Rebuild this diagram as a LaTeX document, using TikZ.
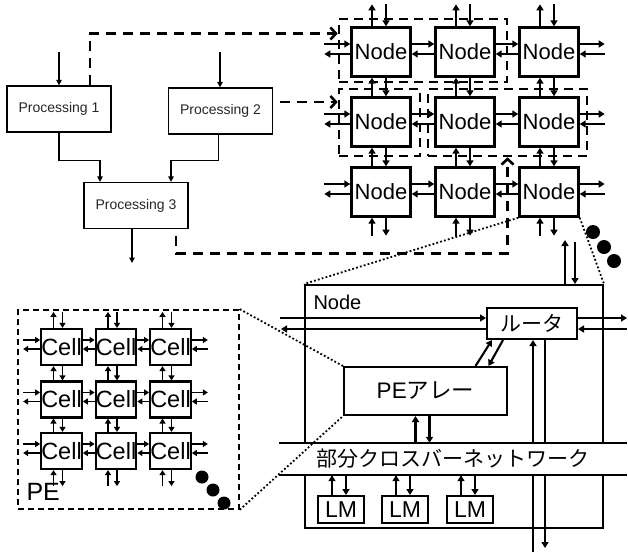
\documentclass[tikz,border=0pt]{standalone}
\usepackage{fontspec}
\setmainfont{Liberation Sans}
\newfontfamily\jpfont{Noto Sans CJK JP}
\usetikzlibrary{calc}
\usetikzlibrary{positioning, fit}
\usetikzlibrary{arrows.meta}

\begin{document}
\begin{tikzpicture}[
    x=1pt, y=-1pt,
    proc/.style={rectangle, draw=black, line width=1.3pt, minimum width=104pt, minimum height=46pt, inner sep=0pt, font=\fontsize{14}{16}\selectfont, text=black!85},
    gnode/.style={rectangle, draw=black, line width=2.4pt, minimum width=59pt, minimum height=49pt, inner sep=0pt, font=\fontsize{22}{24}\selectfont},
    cell/.style={rectangle, draw=black, line width=2.2pt, minimum width=39pt, minimum height=36pt, inner sep=0pt, font=\fontsize{23.5}{24}\selectfont},
    box/.style={rectangle, draw=black, line width=2pt, inner sep=0pt},
    arr/.style={line width=2.1pt, -{Triangle[length=6pt,width=7pt]}},
    carr/.style={line width=1.9pt, -{Triangle[length=5pt,width=6pt]}},
    flow/.style={line width=1.3pt, -{Triangle[length=5.5pt,width=5.5pt]}},
    dconn/.style={line width=2.6pt, dash pattern=on 10pt off 7pt, -{Straight Barb[length=5.5pt,width=12pt,line width=2.6pt]}},
    grp/.style={rectangle, draw=black, line width=2.6pt, dash pattern=on 9pt off 6pt, inner sep=0pt},
    pegrp/.style={rectangle, draw=black, line width=1.6pt, dash pattern=on 6pt off 4pt, inner sep=0pt},
    zoomline/.style={line width=1.8pt, dash pattern=on 1.8pt off 2.2pt},
    bigdot/.style={circle, fill=black, minimum size=14pt, inner sep=0pt},
    jp/.style={font=\jpfont\fontsize{21}{24}\selectfont}
]
    \useasboundingbox (0,0) rectangle (628,552);

    % --- Task graph (top left)
    \node[proc] (P1) at (59,109)    {Processing 1};
    \node[proc] (P2) at (220.5,111) {Processing 2};
    \node[proc] (P3) at (136,205.5) {Processing 3};
    \coordinate (in1) at (59,52);
    \coordinate (in2) at (220,52);
    \coordinate (out3) at (132,263);

    \draw[flow] (in1) -- (P1.north);
    \draw[flow] (in2) -- (in2 |- P2.north);
    \draw[flow] (P1.south) -- ++(0,28) -| ([xshift=-36pt]P3.north);
    \draw[flow] ([xshift=-2pt]P2.south) -- ++(0,26) -| ([xshift=35pt]P3.north);
    \draw[flow] (out3 |- P3.south) -- (out3);

    % --- Node grid (top right)
    \foreach \r/\y in {1/52,2/122,3/192}
        \foreach \c/\x in {1/381,2/465,3/549}
            \node[gnode] (g-\r-\c) at (\x,\y) {Node};

    \foreach \r in {1,2,3} {
        \foreach \c/\d in {1/2,2/3} {
            \draw[arr] ([yshift=8pt]g-\r-\c.east) -- ([yshift=8pt]g-\r-\d.west);
            \draw[arr] ([yshift=-2pt]g-\r-\d.west) -- ([yshift=-2pt]g-\r-\c.east);
        }
        \coordinate (gl-\r) at ($(g-\r-1.west)+(-26,0)$);
        \coordinate (gr-\r) at ($(g-\r-3.east)+(25,0)$);
        \draw[arr] ([yshift=8pt]gl-\r) -- ([yshift=8pt]g-\r-1.west);
        \draw[arr] ([yshift=-2pt]g-\r-1.west) -- ([yshift=-2pt]gl-\r);
        \draw[arr] ([yshift=8pt]g-\r-3.east) -- ([yshift=8pt]gr-\r);
        \draw[arr] ([yshift=-2pt]gr-\r) -- ([yshift=-2pt]g-\r-3.east);
    }
    \foreach \c in {1,2,3} {
        \foreach \r/\s in {1/2,2/3} {
            \draw[arr] ([xshift=-9pt]g-\s-\c.north) -- ([xshift=-9pt]g-\r-\c.south);
            \draw[arr] ([xshift=5pt]g-\r-\c.south) -- ([xshift=5pt]g-\s-\c.north);
        }
        \coordinate (gt-\c) at ($(g-1-\c.north)+(0,-22)$);
        \coordinate (gb-\c) at ($(g-3-\c.south)+(0,18)$);
        \draw[arr] ([xshift=-9pt]g-1-\c.north) -- ([xshift=-9pt]gt-\c);
        \draw[arr] ([xshift=5pt]gt-\c) -- ([xshift=5pt]g-1-\c.north);
        \draw[arr] ([xshift=-9pt]gb-\c) -- ([xshift=-9pt]g-3-\c.south);
        \draw[arr] ([xshift=5pt]g-3-\c.south) -- ([xshift=5pt]gb-\c);
    }

    % --- Mapping of the tasks onto the grid
    \node[grp, fit={(339,19) (507,82)}]  (G1) {};
    \node[grp, fit={(339,89) (420,156)}] (G2) {};
    \node[grp, fit={(428,89) (587,156)}] (G3) {};

    \draw[dconn] ([xshift=31pt]P1.north) |- ([yshift=17pt]G1.west);
    \draw[dconn, shorten <=7pt] ([yshift=9pt]P2.east) -- ([yshift=9pt]P2.east -| G2.west);
    \draw[dconn, shorten <=7pt] ([xshift=40pt]P3.south) |- ([yshift=-96pt]G3.south) -- (G3.south);

    \node[bigdot] (gd1) at (593,232) {};
    \node[bigdot] (gd2) at (604,247) {};
    \node[bigdot] (gd3) at (614,261) {};

    % --- Inside of one node (bottom right)
    \node[box, minimum width=298pt, minimum height=243pt] (NB) at (454,406.5) {};
    \node[anchor=west, font=\fontsize{20}{24}\selectfont] (NBl) at (310,302) {Node};

    \node[box, minimum width=90pt, minimum height=31pt, jp] (R) at (532,323.5) {ルータ};
    \node[box, minimum width=163pt, minimum height=48pt, font=\fontsize{22.5}{24}\selectfont] (PA) at (425.5,391) {PE{\jpfont アレー}};

    \coordinate (Rl1) at (280,318);
    \coordinate (Rl2) at (281,329);
    \coordinate (Rr1) at (627,318);
    \coordinate (Rr2) at (627,329);
    \draw[arr] (Rl1) -- (Rl1 -| R.west);
    \draw[arr] (Rl2 -| R.west) -- (Rl2);
    \draw[arr] (Rr1 -| R.east) -- (Rr1);
    \draw[arr] (Rr2) -- (Rr2 -| R.east);

    \draw[arr] ([xshift=50pt]PA.north) -- ([xshift=-40pt]R.south);
    \draw[arr] ([xshift=-29pt]R.south) -- ([xshift=63pt]PA.north);

    \coordinate (Nt1) at (565,240);
    \coordinate (Nt2) at (575,242);
    \draw[arr] (Nt1 |- NB.north) -- (Nt1);
    \draw[arr] (Nt2) -- (Nt2 |- NB.north);

    \coordinate (Rb1) at (533,552);
    \coordinate (Rb2) at (545,548);
    \draw[arr] (Rb1) -- (Rb1 |- R.south);
    \draw[arr] (Rb2 |- R.south) -- (Rb2);

    % crossbar band hides the lines behind it
    \node[fill=white, minimum width=348pt, minimum height=32pt, inner sep=0pt, jp] (XB) at (453,459) {部分クロスバーネットワーク};
    \draw[line width=2pt] (XB.north west) -- (XB.north east);
    \draw[line width=2pt] (XB.south west) -- (XB.south east);

    \coordinate (pa1) at ([xshift=-10pt]PA.south);
    \coordinate (pa2) at ([xshift=4pt]PA.south);
    \draw[arr] (pa1 |- XB.north) -- (pa1);
    \draw[arr] (pa2) -- (pa2 |- XB.north);

    \foreach \i/\x in {1/341,2/405,3/470} {
        \node[box, minimum width=46pt, minimum height=27pt, font=\fontsize{23}{24}\selectfont] (LM\i) at (\x,509.5) {LM};
        \coordinate (lu\i) at ([xshift=-9pt]LM\i.north);
        \coordinate (ld\i) at ([xshift=5pt]LM\i.north);
        \draw[arr] (lu\i) -- (lu\i |- XB.south);
        \draw[arr] (ld\i |- XB.south) -- (ld\i);
    }

    % --- PE: cell array (bottom left)
    \node[pegrp, fit={(18,310) (239,509)}] (PEB) {};
    \node[anchor=west, font=\fontsize{25}{28}\selectfont] (PEl) at (23,492) {PE};

    \foreach \r/\y in {1/347,2/399.5,3/451}
        \foreach \c/\x in {1/61.5,2/116,3/170.5}
            \node[cell] (c-\r-\c) at (\x,\y) {Cell};

    \foreach \r in {1,2,3} {
        \foreach \c/\d in {1/2,2/3} {
            \draw[carr] ([yshift=7pt]c-\r-\c.east) -- ([yshift=7pt]c-\r-\d.west);
            \draw[carr] ([yshift=-2pt]c-\r-\d.west) -- ([yshift=-2pt]c-\r-\c.east);
        }
        \coordinate (cl-\r) at ($(c-\r-1.west)+(-17,0)$);
        \coordinate (cr-\r) at ($(c-\r-3.east)+(16,0)$);
        \draw[carr] ([yshift=7pt]cl-\r) -- ([yshift=7pt]c-\r-1.west);
        \draw[carr] ([yshift=-2pt]c-\r-1.west) -- ([yshift=-2pt]cl-\r);
        \draw[carr] ([yshift=7pt]c-\r-3.east) -- ([yshift=7pt]cr-\r);
        \draw[carr] ([yshift=-2pt]cr-\r) -- ([yshift=-2pt]c-\r-3.east);
    }
    \foreach \c in {1,2,3} {
        \foreach \r/\s in {1/2,2/3} {
            \draw[carr] ([xshift=-8pt]c-\s-\c.north) -- ([xshift=-8pt]c-\r-\c.south);
            \draw[carr] ([xshift=1pt]c-\r-\c.south) -- ([xshift=1pt]c-\s-\c.north);
        }
        \coordinate (ct-\c) at ($(c-1-\c.north)+(0,-16)$);
        \coordinate (cb-\c) at ($(c-3-\c.south)+(0,16)$);
        \draw[carr] ([xshift=-8pt]c-1-\c.north) -- ([xshift=-8pt]ct-\c);
        \draw[carr] ([xshift=1pt]ct-\c) -- ([xshift=1pt]c-1-\c.north);
        \draw[carr] ([xshift=-8pt]cb-\c) -- ([xshift=-8pt]c-3-\c.south);
        \draw[carr] ([xshift=1pt]c-3-\c.south) -- ([xshift=1pt]cb-\c);
    }

    \node[bigdot, minimum size=13pt] (pd1) at (202,477) {};
    \node[bigdot, minimum size=13pt] (pd2) at (213,490) {};
    \node[bigdot, minimum size=13pt] (pd3) at (224,503) {};

    % --- Zoom lines
    \draw[zoomline] (g-3-3.south west) -- (NB.north west);
    \draw[zoomline] (g-3-3.south east) -- (NB.north east);
    \draw[zoomline] (PEB.north east) -- (PA.north west);
    \draw[zoomline] (PEB.south east) -- (PA.south west);

\end{tikzpicture}
\end{document}
